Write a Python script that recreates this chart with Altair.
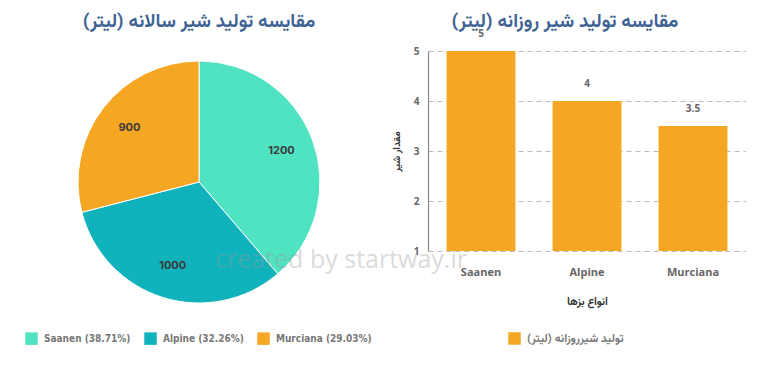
import altair as alt
import pandas as pd

breeds = ["Saanen", "Alpine", "Murciana"]
annual = [1200, 1000, 900]
daily = [5, 4, 3.5]
pie_colors = ["#50E3C2", "#10B3BC", "#F5A623"]
bar_color = "#F5A623"
y_ticks = [1, 2, 3, 4, 5]

total = sum(annual)
pie_labels = [f"{b} ({v / total * 100:.2f}%)" for b, v in zip(breeds, annual)]

pie_df = pd.DataFrame({"breed": breeds, "label": pie_labels, "annual": annual, "idx": list(range(len(breeds)))})
bar_df = pd.DataFrame({"breed": breeds, "daily": daily})

FA = "Vazirmatn, DejaVu Sans"
TITLE_COLOR = "#3F6494"
LEG_FONT = "DejaVu Sans Condensed"

pie_base = alt.Chart(pie_df).encode(
    theta=alt.Theta("annual:Q", stack=True),
    order=alt.Order("idx:Q"),
)
arcs = pie_base.mark_arc(radius=121, stroke="white", strokeWidth=1).encode(
    color=alt.Color(
        "label:N",
        sort=pie_labels,
        scale=alt.Scale(domain=pie_labels, range=pie_colors),
        legend=alt.Legend(
            title=None, orient="none", legendX=17, legendY=281, direction="horizontal",
            symbolType="square", symbolSize=156, symbolStrokeWidth=0, symbolOpacity=1,
            labelFont=LEG_FONT, labelFontSize=10, labelFontWeight="bold", labelOffset=6,
            labelColor="#777", columnPadding=13, symbolOffset=0,
        ),
    )
)
pie_text = pie_base.mark_text(radius=88, font="Inter", fontSize=11, fontWeight="bold", color="#3a3a3a").encode(
    text=alt.Text("annual:Q")
)
watermark = alt.Chart(pie_df).transform_filter("datum.idx == 0").mark_text(
    text="created by startway.ir", font="Open Sans", fontSize=25, color="#999", opacity=0.35
).encode(x=alt.value(333), y=alt.value(209))

pie = alt.layer(arcs, pie_text, watermark).properties(
    width=382, height=262,
    title=alt.Title("مقایسه تولید شیر سالانه (لیتر)", font=FA, fontSize=19, fontWeight="bold",
                    color=TITLE_COLOR, offset=20),
)

bar_base = alt.Chart(bar_df).transform_calculate(series="'تولید شیرروزانه (لیتر)'").encode(
    x=alt.X("breed:N", sort=breeds,
            scale=alt.Scale(paddingInner=0.35, paddingOuter=0.175),
            axis=alt.Axis(title="انواع بزها", titleFont=FA, titleFontSize=11, titleFontWeight="bold",
                          titleColor="#333", titlePadding=18, labelAngle=0, labelFont="Open Sans",
                          labelFontSize=11, labelFontWeight="bold", labelColor="#666",
                          labelPadding=15, domain=False, ticks=False)),
    y=alt.Y("daily:Q", scale=alt.Scale(domain=[1, 5], zero=False, nice=False),
            axis=alt.Axis(title="مقدار شیر", titleFont=FA, titleFontSize=10, titleFontWeight="bold",
                          titleColor="#333", titlePadding=12, values=y_ticks, labelFont="Open Sans",
                          labelFontSize=10, labelFontWeight="bold", labelColor="#666",
                          labelPadding=9, ticks=False, domainColor="#888", domainWidth=1.2,
                          gridDash=[5, 4], gridColor="#bbb")),
)
bars = bar_base.mark_bar().encode(
    y2=alt.datum(1),
    color=alt.Color("series:N", scale=alt.Scale(range=[bar_color]),
                    legend=alt.Legend(title=None, orient="none", legendX=80, legendY=281,
                                      symbolType="square", symbolSize=156, symbolStrokeWidth=0,
                                      symbolOpacity=1, labelFont=FA, labelFontSize=11.5, labelOffset=6,
                                      labelFontWeight="bold", labelColor="#777", labelLimit=300)),
)
bar_text = bar_base.mark_text(dy=-17, font="Open Sans", fontSize=10, fontWeight="bold", color="#666").encode(
    text=alt.Text("daily:Q")
)
bar = alt.layer(bars, bar_text).properties(
    width=318, height=200,
    title=alt.Title("مقایسه تولید شیر روزانه (لیتر)", font=FA, fontSize=19, fontWeight="bold",
                    color=TITLE_COLOR, offset=-2, dx=-22),
)

chart = alt.hconcat(pie, bar, spacing=38, bounds="flush").resolve_scale(color="independent").configure(
    padding={"top": 4, "left": 0, "right": 0, "bottom": 0}, background="white"
).configure_view(stroke=None)

chart.save("out.html", embed_options={"renderer": "svg", "actions": False})
